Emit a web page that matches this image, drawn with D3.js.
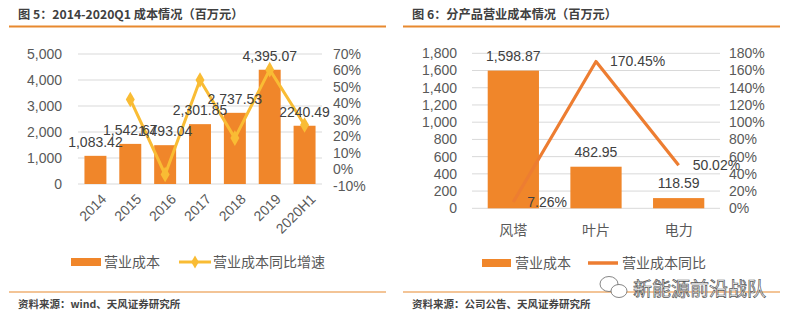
<!DOCTYPE html>
<html><head><meta charset="utf-8">
<script src="https://cdn.jsdelivr.net/npm/d3@7"></script>
<style>body{margin:0;background:#fff}svg{display:block}</style>
</head><body>
<svg id="c" width="791" height="324"></svg>
<script>
// Left chart data
const years = ["2014","2015","2016","2017","2018","2019","2020H1"];
const costValues = [1083.42,1542.67,1493.04,2301.85,2737.53,4395.07,2240.49];
const costLabels = ["1,083.42","1,542.67","1,493.04","2,301.85","2,737.53","4,395.07","2240.49"];
const costGrowth = [null,42.4,-3.2,54.2,18.9,60.5,26.9];
const leftTicksL = [0,1000,2000,3000,4000,5000];
const leftTicksR = [-10,0,10,20,30,40,50,60,70];
// Right chart data
const products = ["风塔","叶片","电力"];
const productCost = [1598.87,482.95,118.59];
const productCostLabels = ["1,598.87","482.95","118.59"];
const productYoY = [7.26,170.45,50.02];
const productYoYLabels = ["7.26%","170.45%","50.02%"];
const rightTicksL = [0,200,400,600,800,1000,1200,1400,1600,1800];
const rightTicksR = [0,20,40,60,80,100,120,140,160,180];

const svg = d3.select("#c");
const ORANGE = "#F0862A", LINE_OR = "#ED7D31", GOLD = "#F9BC34", GRID = "#D9D9D9", TXT = "#595959";
const NUM = "'Liberation Sans', Arial, sans-serif";
const CJK = "'Noto Sans CJK SC', sans-serif";
const fmt = d3.format(",");

function frame(x0, x1, title, source) {
  svg.append("text").attr("x", x0 + 9).attr("y", 19).text(title)
    .attr("font-family", CJK).attr("font-size", 12.2).attr("font-weight", "bold").attr("fill", "#404040");
  svg.append("line").attr("x1", x0).attr("x2", x1).attr("y1", 26.5).attr("y2", 26.5)
    .attr("stroke", "#E8892F").attr("stroke-width", 2);
  svg.append("line").attr("x1", x0).attr("x2", x1).attr("y1", 292).attr("y2", 292)
    .attr("stroke", "#E8892F").attr("stroke-width", 1.2);
  svg.append("text").attr("x", x0 + 9).attr("y", 308).text(source)
    .attr("font-family", CJK).attr("font-size", 10.5).attr("font-weight", "bold").attr("fill", "#444");
}
frame(9, 386, "图 5：2014-2020Q1 成本情况（百万元）", "资料来源：wind、天风证券研究所");
frame(403, 780, "图 6：分产品营业成本情况（百万元）", "资料来源：公司公告、天风证券研究所");

// ---------- Left chart ----------
{
  const x = d3.scaleBand().domain(years).range([78, 322]).paddingInner(0.37).paddingOuter(0.185);
  const y = d3.scaleLinear().domain([0, 5000]).range([184, 54]);
  const y2 = d3.scaleLinear().domain([-10, 70]).range([185.7, 54]);
  const g = svg.append("g");
  g.selectAll("line.grid").data(leftTicksL).join("line")
    .attr("x1", 78).attr("x2", 322).attr("y1", d => y(d)).attr("y2", d => y(d))
    .attr("stroke", GRID).attr("stroke-width", 1);
  g.selectAll("text.tl").data(leftTicksL).join("text")
    .attr("x", 62).attr("y", d => y(d)).attr("dy", "0.35em").attr("text-anchor", "end")
    .attr("font-family", NUM).attr("font-size", 14).attr("fill", TXT).text(d => fmt(d));
  g.selectAll("text.tr").data(leftTicksR).join("text")
    .attr("x", 333).attr("y", d => y2(d)).attr("dy", "0.35em")
    .attr("font-family", NUM).attr("font-size", 14).attr("fill", TXT).text(d => d + "%");
  g.selectAll("rect").data(costValues).join("rect")
    .attr("x", (d, i) => x(years[i])).attr("width", x.bandwidth())
    .attr("y", d => y(d)).attr("height", d => y(0) - y(d)).attr("fill", ORANGE);
  const pts = costGrowth.map((v, i) => [x(years[i]) + x.bandwidth() / 2, v]).filter(p => p[1] !== null);
  g.append("path").attr("d", d3.line().x(p => p[0]).y(p => y2(p[1]))(pts))
    .attr("fill", "none").attr("stroke", GOLD).attr("stroke-width", 3).attr("stroke-linejoin", "round");
  g.selectAll("path.m").data(pts).join("path")
    .attr("d", d3.symbol(d3.symbolDiamond, 70)).attr("transform", p => `translate(${p[0]},${y2(p[1])})`)
    .attr("fill", GOLD);
  g.selectAll("text.bl").data(costValues).join("text")
    .attr("x", (d, i) => x(years[i]) + x.bandwidth() / 2).attr("y", d => y(d) - 9)
    .attr("text-anchor", "middle").attr("font-family", NUM).attr("font-size", 14).attr("fill", "#404040")
    .text((d, i) => costLabels[i]);
  g.selectAll("text.xl").data(years).join("text")
    .attr("transform", d => `translate(${x(d) + x.bandwidth() / 2 + 5},${193}) rotate(-45)`)
    .attr("text-anchor", "end").attr("dy", "0.7em")
    .attr("font-family", NUM).attr("font-size", 14).attr("fill", TXT).text(d => d);
  // legend
  g.append("rect").attr("x", 71).attr("y", 258).attr("width", 30).attr("height", 8).attr("fill", ORANGE);
  g.append("text").attr("x", 104).attr("y", 262).attr("dy", "0.35em").text("营业成本")
    .attr("font-family", CJK).attr("font-size", 14).attr("fill", TXT);
  g.append("line").attr("x1", 179).attr("x2", 211).attr("y1", 262).attr("y2", 262).attr("stroke", GOLD).attr("stroke-width", 3);
  g.append("path").attr("d", d3.symbol(d3.symbolDiamond, 50)).attr("transform", "translate(195,262)").attr("fill", GOLD);
  g.append("text").attr("x", 213).attr("y", 262).attr("dy", "0.35em").text("营业成本同比增速")
    .attr("font-family", CJK).attr("font-size", 14).attr("fill", TXT);
}

// ---------- Right chart ----------
{
  const x = d3.scaleBand().domain(products).range([472, 720]).paddingInner(0.38).paddingOuter(0.19);
  const y = d3.scaleLinear().domain([0, 1800]).range([208.3, 53.3]);
  const y2 = d3.scaleLinear().domain([0, 180]).range([208.3, 53.3]);
  const g = svg.append("g");
  g.selectAll("line.grid").data(rightTicksL).join("line")
    .attr("x1", 472).attr("x2", 720).attr("y1", d => y(d)).attr("y2", d => y(d))
    .attr("stroke", GRID).attr("stroke-width", 1);
  g.selectAll("text.tl").data(rightTicksL).join("text")
    .attr("x", 457).attr("y", d => y(d)).attr("dy", "0.35em").attr("text-anchor", "end")
    .attr("font-family", NUM).attr("font-size", 14).attr("fill", TXT).text(d => fmt(d));
  g.selectAll("text.tr").data(rightTicksR).join("text")
    .attr("x", 729).attr("y", d => y2(d)).attr("dy", "0.35em")
    .attr("font-family", NUM).attr("font-size", 14).attr("fill", TXT).text(d => d + "%");
  g.selectAll("rect").data(productCost).join("rect")
    .attr("x", (d, i) => x(products[i])).attr("width", x.bandwidth())
    .attr("y", d => y(d)).attr("height", d => y(0) - y(d)).attr("fill", ORANGE);
  g.selectAll("text.bl").data(productCost).join("text")
    .attr("x", (d, i) => x(products[i]) + x.bandwidth() / 2).attr("y", d => y(d) - 10)
    .attr("text-anchor", "middle").attr("font-family", NUM).attr("font-size", 14).attr("fill", "#404040")
    .text((d, i) => productCostLabels[i]);
  const pts = productYoY.map((v, i) => [x(products[i]) + x.bandwidth() / 2, v]);
  g.append("path").attr("d", d3.line().x(p => p[0]).y(p => y2(p[1]))(pts))
    .attr("fill", "none").attr("stroke", LINE_OR).attr("stroke-width", 3.2).attr("stroke-linejoin", "round");
  g.selectAll("text.ll").data(pts).join("text")
    .attr("x", p => p[0] + 14).attr("y", p => y2(p[1])).attr("dy", "0.35em")
    .attr("font-family", NUM).attr("font-size", 14).attr("fill", "#404040").text((p, i) => productYoYLabels[i]);
  g.selectAll("text.xl").data(products).join("text")
    .attr("x", d => x(d) + x.bandwidth() / 2).attr("y", 230).attr("dy", "0.35em").attr("text-anchor", "middle")
    .attr("font-family", CJK).attr("font-size", 14).attr("fill", TXT).text(d => d);
  // legend
  g.append("rect").attr("x", 482).attr("y", 259).attr("width", 29).attr("height", 8).attr("fill", ORANGE);
  g.append("text").attr("x", 515).attr("y", 263).attr("dy", "0.35em").text("营业成本")
    .attr("font-family", CJK).attr("font-size", 14).attr("fill", TXT);
  g.append("line").attr("x1", 588).attr("x2", 618).attr("y1", 263).attr("y2", 263).attr("stroke", LINE_OR).attr("stroke-width", 3.5);
  g.append("text").attr("x", 622).attr("y", 263).attr("dy", "0.35em").text("营业成本同比")
    .attr("font-family", CJK).attr("font-size", 14).attr("fill", TXT);
  // watermark
  const w = svg.append("g").attr("fill", "#fff").attr("stroke", "#666").attr("stroke-width", 0.8);
  w.append("ellipse").attr("cx", 609).attr("cy", 284).attr("rx", 9).attr("ry", 7.5);
  w.append("ellipse").attr("cx", 619).attr("cy", 291).attr("rx", 8).attr("ry", 6.5);
  svg.append("text").attr("x", 633).attr("y", 289).attr("dy", "0.35em").text("新能源前沿战队")
    .attr("font-family", CJK).attr("font-size", 19).attr("fill", "#fff").attr("stroke", "#555").attr("stroke-width", 0.7);
}
</script>
</body></html>
